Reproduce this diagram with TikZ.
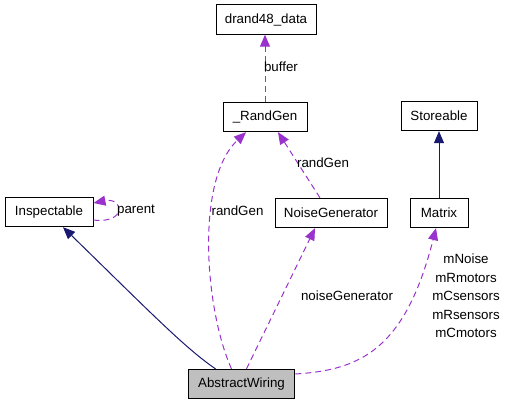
\documentclass[tikz,border=0pt]{standalone}
\usepackage{fontspec}
\setmainfont{Liberation Sans}
\usetikzlibrary{arrows.meta,positioning,calc}
\definecolor{edgepurple}{RGB}{154,50,205}
\definecolor{edgenavy}{RGB}{25,25,112}
\definecolor{boxgray}{RGB}{191,191,191}
\tikzset{
  classbox/.style={rectangle,draw=black,line width=0.75pt,minimum height=22pt,inner sep=0pt,font=\fontsize{10}{12}\selectfont},
  usage/.style={draw=edgepurple,line width=0.75pt,dash pattern=on 4.5pt off 3pt,-{Triangle[length=9pt,width=7.5pt]}},
  inherit/.style={draw=edgenavy,line width=0.75pt,-{Triangle[length=9pt,width=7.5pt]}},
  edgelabel/.style={font=\fontsize{10}{12}\selectfont,inner sep=0pt}
}

\begin{document}
\begin{tikzpicture}[x=0.75pt,y=-0.75pt]
        \useasboundingbox (0,0) rectangle (505,403);

        % Classes
        \node[classbox,minimum width=75pt] (drand) at (266,19.5) {drand48\_data};
        \node[classbox,minimum width=63pt] (randgen) at (265,117) {\_RandGen};
        \node[classbox,minimum width=57pt] (store) at (439,116) {Storeable};
        \node[classbox,minimum width=84pt] (noisegen) at (331,213) {NoiseGenerator};
        \node[classbox,minimum width=43.5pt] (matrix) at (439,213) {Matrix};
        \node[classbox,minimum width=66pt] (insp) at (49,212) {Inspectable};
        \node[classbox,minimum width=80pt,fill=boxgray] (wiring) at (241.5,384) {AbstractWiring};

        % Inheritance
        \draw[inherit] (matrix.north) -- (store.south);
        \draw[inherit] ($(wiring.north)+(-26,0)$) .. controls (185,348) and (150,312) .. ($(insp.south)+(14,0)$);

        % Usage
        \draw[usage] (randgen.north) -- (randgen.north |- drand.south);
        \draw[usage] ($(noisegen.north)+(-11,0)$) -- ($(randgen.south)+(13,0)$);
        \draw[usage] ($(wiring.north)+(-10,0)$) .. controls (205,310) and (195,180) .. ($(randgen.south)+(-19,0)$);
        \draw[usage] ($(wiring.north)+(5,0)$) -- ($(noisegen.south)+(-16,0)$);
        \draw[usage] ($(wiring.east)+(0,-10)$) .. controls (360,370) and (405,350) .. ($(matrix.south)+(-3,0)$);
        \draw[usage] ($(insp.east)+(0,8)$) .. controls (127,224) and (124,197) .. ($(insp.east)+(0,-9)$);

        % Labels
        \node[edgelabel] (lbuffer) at (281,67) {buffer};
        \node[edgelabel] (lrandgen) at (323,163) {randGen};
        \node[edgelabel] (lrandgenw) at (237.5,211) {randGen};
        \node[edgelabel] (lnoise) at (347,296) {noiseGenerator};
        \node[edgelabel] (lparent) at (136,211) {parent};
        \node[edgelabel,align=center,font=\fontsize{10}{13.9}\selectfont] (lmatrix) at (466,296) {mNoise\\mRmotors\\mCsensors\\mRsensors\\mCmotors};
    \end{tikzpicture}
\end{document}
